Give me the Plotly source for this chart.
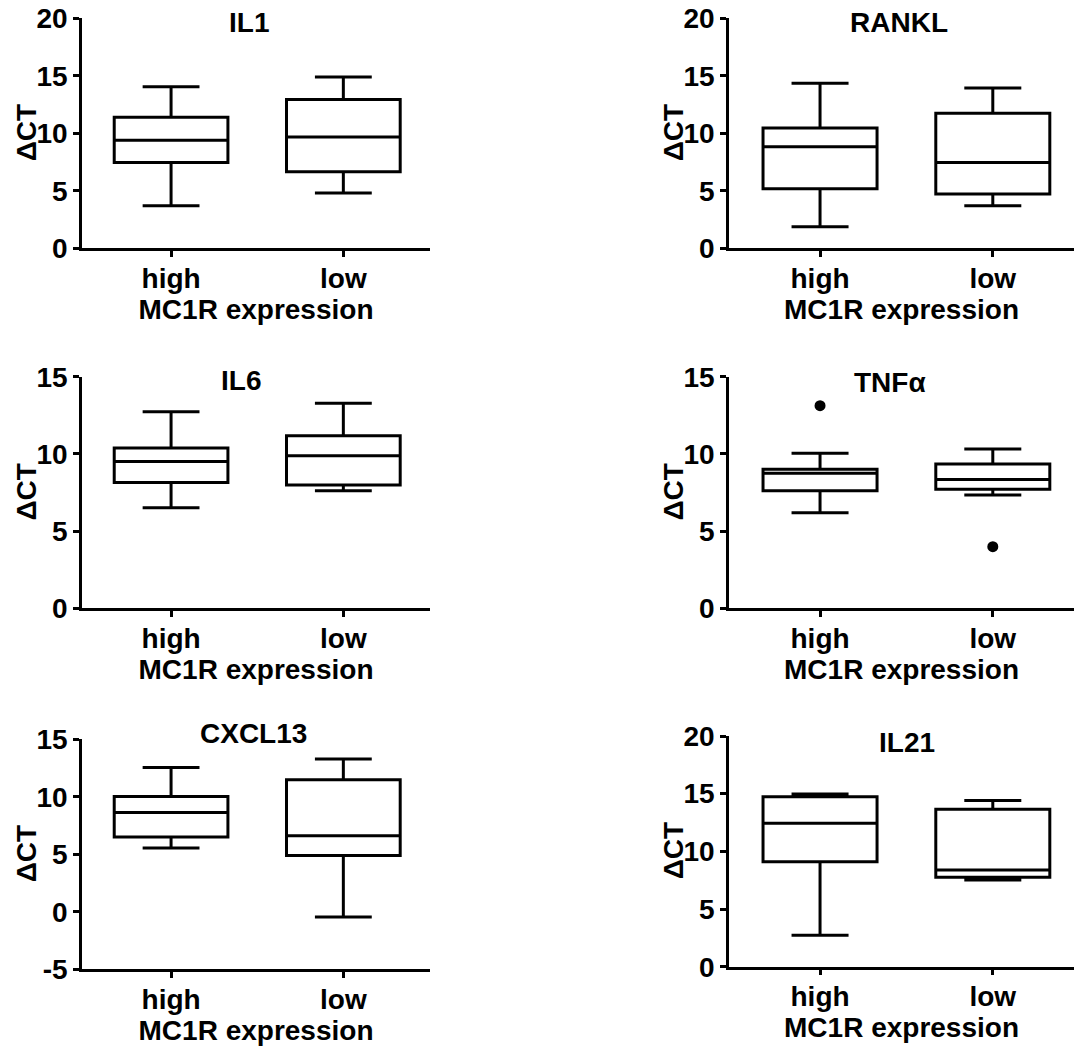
import plotly.graph_objects as go

# ---- data ----
genes = ["IL1", "RANKL", "IL6", "TNFα", "CXCL13", "IL21"]
groups = ["high", "low"]

lower_whisker = {"IL1": [3.7, 4.8], "RANKL": [1.88, 3.7], "IL6": [6.52, 7.62],
                 "TNFα": [6.19, 7.34], "CXCL13": [5.54, -0.46], "IL21": [2.72, 7.52]}
q1_vals = {"IL1": [7.45, 6.66], "RANKL": [5.18, 4.72], "IL6": [8.14, 7.99],
           "TNFα": [7.62, 7.71], "CXCL13": [6.5, 4.9], "IL21": [9.1, 7.75]}
median_vals = {"IL1": [9.4, 9.68], "RANKL": [8.84, 7.45], "IL6": [9.5, 9.88],
               "TNFα": [8.74, 8.35], "CXCL13": [8.63, 6.61], "IL21": [12.44, 8.39]}
q3_vals = {"IL1": [11.4, 12.95], "RANKL": [10.46, 11.74], "IL6": [10.38, 11.18],
           "TNFα": [9.0, 9.35], "CXCL13": [10.03, 11.48], "IL21": [14.74, 13.65]}
upper_whisker = {"IL1": [14.05, 14.9], "RANKL": [14.35, 13.94], "IL6": [12.73, 13.28],
                 "TNFα": [10.04, 10.32], "CXCL13": [12.55, 13.28], "IL21": [14.98, 14.4]}
outlier_groups = {"TNFα": ["high", "low"]}
outlier_values = {"TNFα": [13.12, 3.99]}

y_ranges = {"IL1": [0, 20], "RANKL": [0, 20], "IL6": [0, 15], "TNFα": [0, 15],
            "CXCL13": [-5, 15], "IL21": [0, 20]}
y_ticks = {"IL1": [0, 5, 10, 15, 20], "RANKL": [0, 5, 10, 15, 20],
           "IL6": [0, 5, 10, 15], "TNFα": [0, 5, 10, 15],
           "CXCL13": [-5, 0, 5, 10, 15], "IL21": [0, 5, 10, 15, 20]}

x_title = "MC1R expression"
y_title = "ΔCT"

# ---- layout geometry (page pixels) ----
W, H = 1074, 1050
# (left px, right px, top px, bottom px, x range)
panels = {
    "IL1":    (82, 430, 18.3, 248.3, [-0.517, 1.503]),
    "RANKL":  (729, 1074, 18.3, 248.3, [-0.527, 1.47]),
    "IL6":    (82, 430, 376.7, 608.3, [-0.517, 1.503]),
    "TNFα":   (729, 1074, 376.7, 608.3, [-0.527, 1.47]),
    "CXCL13": (82, 430, 739.3, 969.3, [-0.517, 1.503]),
    "IL21":   (729, 1074, 736.0, 966.7, [-0.527, 1.47]),
}
title_pos = {"IL1": (249, 23), "RANKL": (899, 23), "IL6": (241, 380),
             "TNFα": (890, 382), "CXCL13": (253, 733), "IL21": (907, 742)}
ylab_x = {"IL1": 26, "RANKL": 673, "IL6": 26, "TNFα": 673, "CXCL13": 26, "IL21": 673}


def px(x):
    return x / W


def py(y):
    return 1 - y / H


FONT = dict(family="Liberation Sans, Arial, sans-serif", size=28, color="black", weight="bold")
LW = 3

fig = go.Figure()
annotations = []
layout_axes = {}

for i, g in enumerate(genes):
    idx = "" if i == 0 else str(i + 1)
    xa, ya = "x" + idx, "y" + idx
    l, r, t, b, xr = panels[g]
    fig.add_trace(go.Box(
        x=groups, q1=q1_vals[g], median=median_vals[g], q3=q3_vals[g],
        lowerfence=lower_whisker[g], upperfence=upper_whisker[g],
        width=0.66, whiskerwidth=0.5, boxpoints=False,
        line=dict(color="black", width=LW), fillcolor="rgba(255,255,255,0)",
        xaxis=xa, yaxis=ya, showlegend=False, hoverinfo="skip"))
    if g in outlier_values:
        fig.add_trace(go.Scatter(
            x=outlier_groups[g], y=outlier_values[g], mode="markers",
            marker=dict(color="black", size=11), xaxis=xa, yaxis=ya,
            showlegend=False, hoverinfo="skip"))
    layout_axes["xaxis" + idx] = dict(
        domain=[px(l), min(px(r), 1.0)], anchor=ya, type="category",
        categoryorder="array", categoryarray=groups, range=xr,
        showline=True, linewidth=2.5, linecolor="black", mirror=False,
        ticks="outside", ticklen=6, tickwidth=2.5, tickcolor="black",
        ticklabelstandoff=-3,
        showgrid=False, zeroline=False, tickfont=FONT, automargin=False,
        title=dict(text=x_title, font=FONT, standoff=6))
    layout_axes["yaxis" + idx] = dict(
        domain=[py(b), py(t)], anchor=xa, range=y_ranges[g],
        tickvals=y_ticks[g], ticktext=[str(v) for v in y_ticks[g]],
        showline=True, linewidth=2.5, linecolor="black",
        ticks="outside", ticklen=6, tickwidth=2.5, tickcolor="black",
        showgrid=False, zeroline=False, tickfont=FONT, automargin=False)
    tx, ty = title_pos[g]
    annotations.append(dict(text=g, x=px(tx), y=py(ty), xref="paper", yref="paper",
                            xanchor="center", yanchor="middle", showarrow=False, font=FONT))
    annotations.append(dict(text=y_title, x=px(ylab_x[g]), y=py((t + b) / 2),
                            xref="paper", yref="paper", xanchor="center", yanchor="middle",
                            textangle=-90, showarrow=False, font=FONT))

fig.update_layout(
    template="none",
    width=W, height=H, margin=dict(l=0, r=0, t=0, b=0, pad=0),
    paper_bgcolor="white", plot_bgcolor="white", font=FONT,
    annotations=annotations, **layout_axes)

fig.write_html("out.html", config={"displayModeBar": False},
               post_script="document.body.style.margin='0px';")
